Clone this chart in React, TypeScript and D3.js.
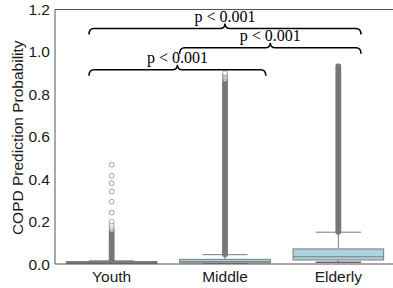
import React from "react";
import * as d3 from "d3";

// box statistics
const groups = ["Youth", "Middle", "Elderly"];
const q1 = [0.001, 0.005, 0.019];
const medians = [0.003, 0.011, 0.034];
const q3 = [0.006, 0.022, 0.071];
const whiskerLow = [0.0, 0.0, 0.003];
const whiskerHigh = [0.015, 0.044, 0.15];
// outliers packed so tight they read as a solid column
const denseFrom = [0.017, 0.046, 0.152];
const denseTo = [0.155, 0.866, 0.932];
// outliers that stand apart
const youthFliers = [0.161, 0.166, 0.173, 0.184, 0.2, 0.242, 0.294, 0.342, 0.381, 0.416, 0.468];
const middleFliers = [0.872, 0.879, 0.886, 0.893, 0.9];
const elderlyFliers: number[] = [];
const fliers = [youthFliers, middleFliers, elderlyFliers];

const yTicks = [0, 0.2, 0.4, 0.6, 0.8, 1.0, 1.2];

// significance braces
const pairFrom = [0, 1, 0];
const pairTo = [1, 2, 2];
const pLabels = ["p < 0.001", "p < 0.001", "p < 0.001"];
const braceLevels = [0.916, 1.02, 1.11];

const W = 393;
const H = 288;
const margin = { left: 55, right: -2, top: 9.5, bottom: 24 };

const boxFill = "#a9d4e0";
const lineGray = "#7b7b7b";
const textColor = "#1a1a1a";
const sans = "'Liberation Sans', Arial, sans-serif";
const serif = "'Liberation Serif', 'Times New Roman', serif";

// extra reach of each brace past its two category centres, in band units
const braceLeftPad = [0.2, 0.4, 0.2];
const braceRightPad = [0.36, 0.2, 0.2];

function bracePath(x1: number, x2: number, y: number) {
  const r = 5;
  const h = 5;
  const xm = (x1 + x2) / 2;
  return [
    `M${x1},${y + h + 1}`,
    `Q${x1},${y} ${x1 + r},${y}`,
    `L${xm - r},${y}`,
    `Q${xm},${y} ${xm},${y - h}`,
    `Q${xm},${y} ${xm + r},${y}`,
    `L${x2 - r},${y}`,
    `Q${x2},${y} ${x2},${y + h + 1}`,
  ].join(" ");
}

export default function App() {
  const x = d3
    .scaleBand<string>()
    .domain(groups)
    .range([margin.left, W - margin.right])
    .padding(0);
  const y = d3.scaleLinear().domain([0, 1.2]).range([H - margin.bottom, margin.top]);
  const bw = x.bandwidth();
  const boxW = bw * 0.8;
  const cx = (i: number) => (x(groups[i]) as number) + bw / 2;
  const r = 2.4;

  return (
    <svg width={W} height={H} style={{ position: "absolute", left: 0, top: 0, background: "#fff" }}>
      {/* spines */}
      <line x1={margin.left} x2={W} y1={y(1.2)} y2={y(1.2)} stroke="#555" strokeWidth={1} />
      <line x1={margin.left} x2={margin.left} y1={y(1.2)} y2={y(0)} stroke="#555" strokeWidth={1} />

      {yTicks.map((t) => (
        <text
          key={t}
          x={margin.left - 5}
          y={y(t)}
          dy="0.36em"
          textAnchor="end"
          fontFamily={sans}
          fontSize={15.5}
          fill={textColor}
        >
          {t.toFixed(1)}
        </text>
      ))}

      <text
        transform={`translate(23,${(y(0) + y(1.2)) / 2 + 1}) rotate(-90)`}
        textAnchor="middle"
        fontFamily={sans}
        fontSize={15.5}
        fill={textColor}
      >
        COPD Prediction Probability
      </text>

      {groups.map((g, i) => {
        const c = cx(i);
        return (
          <g key={g}>
            {/* whiskers */}
            <line x1={c} x2={c} y1={y(q3[i])} y2={y(whiskerHigh[i])} stroke={lineGray} strokeWidth={1} />
            <line x1={c} x2={c} y1={y(q1[i])} y2={y(whiskerLow[i])} stroke={lineGray} strokeWidth={1} />
            <line x1={c - boxW / 4} x2={c + boxW / 4} y1={y(whiskerHigh[i])} y2={y(whiskerHigh[i])} stroke={lineGray} strokeWidth={1} />
            <line x1={c - boxW / 4} x2={c + boxW / 4} y1={y(whiskerLow[i]) - 1} y2={y(whiskerLow[i]) - 1} stroke="#666" strokeWidth={1.5} />
            {/* box */}
            <rect
              x={c - boxW / 2}
              y={Math.min(y(q3[i]), y(0) - 2.5)}
              width={boxW}
              height={Math.max(2, y(q1[i]) - y(q3[i]))}
              fill={i === 0 ? "#777" : boxFill}
              stroke={lineGray}
              strokeWidth={1}
            />
            <line x1={c - boxW / 2} x2={c + boxW / 2} y1={y(medians[i])} y2={y(medians[i])} stroke={lineGray} strokeWidth={1} />
            {/* fliers */}
            <rect
              x={c - r - 0.5}
              y={y(denseTo[i]) - r - 0.5}
              width={2 * r + 1}
              height={y(denseFrom[i]) - y(denseTo[i]) + 2 * r + 1}
              rx={r}
              fill="#777"
            />
            {fliers[i].map((v, k) => (
              <circle key={k} cx={c} cy={y(v)} r={r} fill="#fff" stroke="#8a8a8a" strokeWidth={0.8} />
            ))}
            <text x={c} y={281.5} textAnchor="middle" fontFamily={sans} fontSize={15.5} fill={textColor}>
              {g}
            </text>
          </g>
        );
      })}

      {/* bottom spine on top of the boxes */}
      <line x1={margin.left} x2={W} y1={y(0)} y2={y(0)} stroke="#555" strokeWidth={1} />

      {pLabels.map((p, k) => {
        const x1 = cx(pairFrom[k]) - braceLeftPad[k] * bw;
        const x2 = cx(pairTo[k]) + braceRightPad[k] * bw;
        const yy = y(braceLevels[k]);
        return (
          <g key={k}>
            <path d={bracePath(x1, x2, yy)} fill="none" stroke="#000" strokeWidth={1.5} />
            <text x={(x1 + x2) / 2} y={yy - 7} textAnchor="middle" fontFamily={serif} fontSize={16} fill="#000">
              {p}
            </text>
          </g>
        );
      })}
    </svg>
  );
}
